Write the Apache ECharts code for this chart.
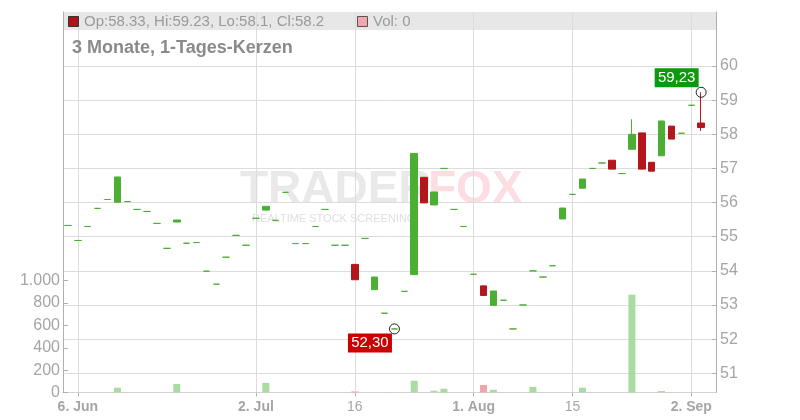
<!DOCTYPE html>
<html><head><meta charset="utf-8">
<script src="https://cdn.jsdelivr.net/npm/echarts@6/dist/echarts.min.js"></script>
<style>html,body{margin:0;padding:0;background:#fff}#c{width:800px;height:420px}</style>
</head><body><div id="c"></div>
<script>
const dates = [
 '2024-06-05','2024-06-06','2024-06-07','2024-06-10','2024-06-11','2024-06-12','2024-06-13','2024-06-14',
 '2024-06-17','2024-06-18','2024-06-19','2024-06-20','2024-06-21','2024-06-24','2024-06-25','2024-06-26',
 '2024-06-27','2024-06-28','2024-07-01','2024-07-02','2024-07-03','2024-07-04','2024-07-05','2024-07-08',
 '2024-07-09','2024-07-10','2024-07-11','2024-07-12','2024-07-15','2024-07-16','2024-07-17','2024-07-18',
 '2024-07-19','2024-07-22','2024-07-23','2024-07-24','2024-07-25','2024-07-26','2024-07-29','2024-07-30',
 '2024-07-31','2024-08-01','2024-08-02','2024-08-05','2024-08-06','2024-08-07','2024-08-08','2024-08-09',
 '2024-08-12','2024-08-13','2024-08-14','2024-08-15','2024-08-16','2024-08-19','2024-08-20','2024-08-21',
 '2024-08-22','2024-08-23','2024-08-26','2024-08-27','2024-08-28','2024-08-29','2024-08-30','2024-09-02',
 '2024-09-03'
];
const opens = [
 55.33,54.89,55.30,55.83,56.09,56.01,56.03,55.80,55.74,55.39,54.66,55.43,54.81,54.83,53.99,53.61,
 54.40,55.04,54.75,55.54,55.78,55.48,56.30,54.80,54.80,55.30,55.80,54.75,54.75,54.19,54.95,53.45,
 52.76,52.30,53.40,53.89,56.74,55.93,57.00,55.80,55.30,53.90,53.56,52.99,53.14,52.30,53.00,54.00,
 53.82,54.15,55.52,56.24,56.42,57.00,57.16,57.24,56.85,57.56,58.04,57.18,57.37,58.24,58.03,58.85,
 58.33
];
const closes = [
 55.33,54.89,55.30,55.83,56.09,56.75,56.03,55.80,55.74,55.39,54.66,55.49,54.81,54.83,53.99,53.61,
 54.40,55.04,54.75,55.54,55.89,55.48,56.30,54.80,54.80,55.30,55.80,54.75,54.75,53.74,54.95,53.82,
 52.76,52.30,53.40,57.44,55.99,56.31,57.00,55.80,55.30,53.90,53.28,53.41,53.14,52.30,53.00,54.00,
 53.82,54.15,55.84,56.24,56.69,57.00,57.16,56.98,56.85,58.00,56.98,56.92,58.39,57.86,58.03,58.85,
 58.20
];
const highs = [
 55.33,54.89,55.30,55.83,56.09,56.75,56.03,55.80,55.74,55.39,54.66,55.49,54.81,54.83,53.99,53.61,
 54.40,55.04,54.75,55.54,55.89,55.48,56.30,54.80,54.80,55.30,55.80,54.75,54.75,54.19,54.95,53.82,
 52.76,52.30,53.40,57.44,56.74,56.31,57.00,55.80,55.30,53.90,53.56,53.41,53.14,52.30,53.00,54.00,
 53.82,54.15,55.84,56.24,56.69,57.00,57.16,57.24,56.85,58.44,58.04,57.18,58.39,58.24,58.03,58.85,
 59.23
];
const lows = [
 55.33,54.89,55.30,55.83,56.09,56.01,56.03,55.80,55.74,55.39,54.66,55.43,54.81,54.83,53.99,53.61,
 54.40,55.04,54.75,55.54,55.78,55.48,56.30,54.80,54.80,55.30,55.80,54.75,54.75,53.74,54.95,53.45,
 52.76,52.30,53.40,53.89,55.99,55.93,57.00,55.80,55.30,53.90,53.28,52.99,53.14,52.30,53.00,54.00,
 53.82,54.15,55.52,56.24,56.42,57.00,57.16,56.98,56.85,57.56,56.98,56.92,57.37,57.86,58.03,58.85,
 58.10
];
const volumes = [
 0,0,0,0,0,43,0,0,0,0,0,76,0,0,0,0,
 0,0,0,0,86,0,0,0,0,0,0,0,0,10,0,0,
 0,0,0,105,0,16,34,0,0,0,67,25,0,0,0,50,
 0,0,0,0,43,0,0,0,0,875,0,0,13,0,0,0,
 0
];
const tickDates = ['2024-06-06','2024-07-02','2024-07-16','2024-08-01','2024-08-15','2024-09-02'];
const tickTexts = ['6. Jun','2. Jul','16','1. Aug','15','2. Sep'];
const tickBold  = [true,true,false,true,false,true];
const priceMin = 51, priceMax = 60, priceStep = 1;
const volMin = 0, volMax = 1000, volStep = 200;
const titleText = '3 Monate, 1-Tages-Kerzen';
const legendText = 'Op:58.33, Hi:59.23, Lo:58.1, Cl:58.2';
const volLegendText = 'Vol: 0';

const G='#4caf34', R='#b3161b', VG='#a9dba3', VR='#f1a5ad';
const GRID='#dcdcdc', AXIS='#b0b0b0', TXT='#a5a5a5';
const FONT='"Liberation Sans", Arial, sans-serif';

const cats = dates.concat(['']);
const tickIdx = tickDates.map(d => dates.indexOf(d));
const isTick = (i) => tickIdx.indexOf(i) >= 0;

const candleData = dates.map((d,i) => {
  const item = {value:[opens[i], closes[i], lows[i], highs[i]]};
  if (opens[i] === closes[i]) item.itemStyle = {color:G, color0:G, borderColor:G, borderColor0:G};
  return item;
});
const volData = volumes.map((v,i) => ({value:v, itemStyle:{color: closes[i] < opens[i] ? VR : VG}}));

const L = 63, RT = 84;
const chart = echarts.init(document.getElementById('c'), null, {renderer:'canvas'});
const option = {
  animation:false,
  backgroundColor:'#ffffff',
  textStyle:{fontFamily:FONT},
  grid:[
    {left:L, right:RT, top:12, bottom:27.5},
    {left:L, right:RT, top:66, height:307.3},
    {left:L, right:RT, top:280.7, height:111.8}
  ],
  xAxis:[
    {gridIndex:0, type:'category', data:cats, boundaryGap:true,
     axisLine:{show:true, lineStyle:{color:AXIS, width:1}},
     axisTick:{show:true, alignWithLabel:true, interval:(i)=>isTick(i), length:4, lineStyle:{color:AXIS}},
     axisLabel:{show:true, interval:(i)=>isTick(i), margin:8, fontFamily:FONT,
       formatter:(v,i)=>{const k=tickIdx.indexOf(i); if(k<0) return ''; return (tickBold[k]?'{b|':'{n|')+tickTexts[k]+'}';},
       rich:{b:{fontSize:14, fontWeight:'bold', color:TXT, fontFamily:FONT}, n:{fontSize:14, color:TXT, fontFamily:FONT}}},
     splitLine:{show:false}},
    {gridIndex:0, type:'category', data:cats, position:'top',
     axisLine:{show:true, lineStyle:{color:'#d2d2d2'}}, axisTick:{show:false}, axisLabel:{show:false}, splitLine:{show:false}},
    {gridIndex:1, type:'category', data:cats, boundaryGap:true, show:false},
    {gridIndex:2, type:'category', data:cats, boundaryGap:true, show:false}
  ],
  yAxis:[
    {gridIndex:0, type:'value', position:'left', min:0, max:1,
     axisLine:{show:true, lineStyle:{color:AXIS}}, axisTick:{show:false}, axisLabel:{show:false}, splitLine:{show:false}},
    {gridIndex:0, type:'value', position:'right', min:0, max:1,
     axisLine:{show:true, lineStyle:{color:AXIS}}, axisTick:{show:false}, axisLabel:{show:false}, splitLine:{show:false}},
    {gridIndex:1, type:'value', position:'right', min:priceMin, max:priceMax, interval:priceStep,
     axisLine:{show:false}, axisTick:{show:true, inside:true, length:4, lineStyle:{color:AXIS}},
     axisLabel:{show:true, margin:4, fontSize:16, color:TXT, fontFamily:FONT},
     splitLine:{show:true, lineStyle:{color:GRID, width:1}}},
    {gridIndex:2, type:'value', position:'left', min:volMin, max:volMax, interval:volStep,
     axisLine:{show:false}, axisTick:{show:true, inside:true, length:5, lineStyle:{color:AXIS}},
     axisLabel:{show:true, margin:3, fontSize:16, color:TXT, fontFamily:FONT,
       formatter:(v)=>String(v).replace(/\B(?=(\d{3})+(?!\d))/g,'.')},
     splitLine:{show:false}}
  ],
  series:[
    {type:'line', xAxisIndex:0, yAxisIndex:0, data:[], silent:true, z:1,
     markLine:{silent:true, symbol:['none','none'], label:{show:false}, animation:false,
       lineStyle:{color:GRID, type:'solid', width:1},
       data: tickDates.map(d=>({xAxis:d}))}},
    {type:'candlestick', xAxisIndex:2, yAxisIndex:2, data:candleData, barWidth:7, z:5,
     itemStyle:{color:G, color0:R, borderColor:G, borderColor0:R, borderWidth:1}},
    {type:'bar', xAxisIndex:3, yAxisIndex:3, data:volData, barWidth:7, z:4}
  ]
};
chart.setOption(option);

// markers for high / low
let hiI = 0, loI = 0;
for (let i=0;i<highs.length;i++){ if (highs[i] > highs[hiI]) hiI = i; if (lows[i] < lows[loI]) loI = i; }
const hp = chart.convertToPixel({seriesIndex:1}, [hiI, highs[hiI]]);
const lp = chart.convertToPixel({seriesIndex:1}, [loI, lows[loI]]);
const fmt = (v)=>v.toFixed(2).replace('.', ',');
const bw = 44, bh = 19;

chart.setOption({graphic:[
  {type:'rect', z:-1, silent:true, shape:{x:L, y:12, width:800-RT-L, height:18}, style:{fill:'#e7e7e7'}},
  {type:'text', z:-1, silent:true, x:240, y:190, style:{text:'TRADER', font:'bold 46px '+FONT, fill:'rgba(215,215,215,0.55)', verticalAlign:'middle'}},
  {type:'text', z:-1, silent:true, x:428, y:190, style:{text:'FOX', font:'bold 46px '+FONT, fill:'rgba(250,190,198,0.5)', verticalAlign:'middle'}},
  {type:'text', z:-1, silent:true, x:252, y:219, style:{text:'REALTIME STOCK SCREENING', font:'11px '+FONT, fill:'rgba(215,215,215,0.8)', verticalAlign:'middle'}},
  {type:'rect', z:10, silent:true, shape:{x:68.5, y:16.5, width:10, height:10}, style:{fill:'#b0101a', stroke:'#333', lineWidth:1}},
  {type:'text', z:10, silent:true, x:84, y:22, style:{text:legendText, font:'15px '+FONT, fill:'#9a9a9a', verticalAlign:'middle'}},
  {type:'rect', z:10, silent:true, shape:{x:357.5, y:16.5, width:10, height:10}, style:{fill:'#f2a7b0', stroke:'#555', lineWidth:1}},
  {type:'text', z:10, silent:true, x:373, y:22, style:{text:volLegendText, font:'15px '+FONT, fill:'#9a9a9a', verticalAlign:'middle'}},
  {type:'text', z:10, silent:true, x:72, y:48, style:{text:titleText, font:'bold 18px '+FONT, fill:'#8a8a8a', verticalAlign:'middle'}},
  {type:'circle', z:20, silent:true, shape:{cx:hp[0], cy:hp[1], r:5}, style:{fill:'none', stroke:'#222', lineWidth:1}},
  {type:'circle', z:20, silent:true, shape:{cx:lp[0], cy:lp[1], r:5}, style:{fill:'none', stroke:'#222', lineWidth:1}},
  {type:'rect', z:20, silent:true, shape:{x:hp[0]-2.5-bw, y:hp[1]-5-bh, width:bw, height:bh}, style:{fill:'#0c9a0c'}},
  {type:'text', z:21, silent:true, x:hp[0]-2.5-bw/2, y:hp[1]-5-bh/2, style:{text:fmt(highs[hiI]), font:'15px '+FONT, fill:'#ffffff', align:'center', verticalAlign:'middle'}},
  {type:'rect', z:20, silent:true, shape:{x:lp[0]-2.5-bw, y:lp[1]+4.7, width:bw, height:bh}, style:{fill:'#cc0000'}},
  {type:'text', z:21, silent:true, x:lp[0]-2.5-bw/2, y:lp[1]+4.7+bh/2, style:{text:fmt(lows[loI]), font:'15px '+FONT, fill:'#ffffff', align:'center', verticalAlign:'middle'}}
]});
</script>
</body></html>
